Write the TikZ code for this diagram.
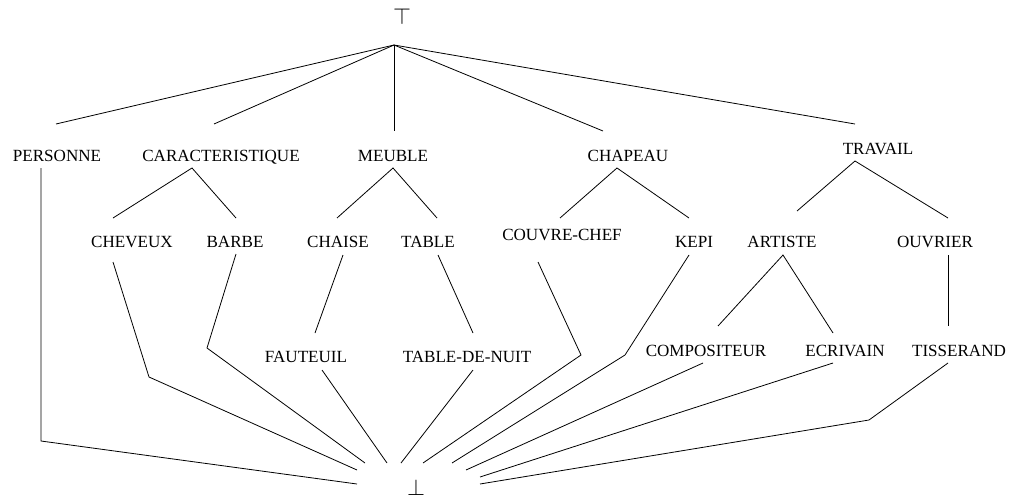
\documentclass[tikz,border=0pt]{standalone}
\usepackage{fontspec}
\setmainfont{Liberation Serif}
\begin{document}
\begin{tikzpicture}[x=0.75pt,y=-0.75pt,
  lbl/.style={inner sep=0pt,anchor=base,font=\fontsize{12.8}{15}\selectfont},
  sym/.style={inner sep=0pt,font=\fontsize{16}{18}\selectfont},
  edge/.style={line width=0.6pt,line join=miter}]
\useasboundingbox (0,0) rectangle (1009,500);
% labels
\node[sym] (TOP) at (402,16.5) {$\top$};
\node[sym] (BOT) at (416,487) {$\bot$};
\node[lbl] (PERSONNE) at (57,161) {PERSONNE};
\node[lbl] (CARAC) at (221,161) {CARACTERISTIQUE};
\node[lbl] (MEUBLE) at (393,161) {MEUBLE};
\node[lbl] (CHAPEAU) at (628,161) {CHAPEAU};
\node[lbl] (TRAVAIL) at (878,154) {TRAVAIL};
\node[lbl] (CHEVEUX) at (132,247) {CHEVEUX};
\node[lbl] (BARBE) at (235,247) {BARBE};
\node[lbl] (CHAISE) at (338,247) {CHAISE};
\node[lbl] (TABLE) at (428,247) {TABLE};
\node[lbl] (COUVRE) at (562,240) {COUVRE-CHEF};
\node[lbl] (KEPI) at (694,247) {KEPI};
\node[lbl] (ARTISTE) at (782,247) {ARTISTE};
\node[lbl] (OUVRIER) at (935,247) {OUVRIER};
\node[lbl] (FAUTEUIL) at (306,362) {FAUTEUIL};
\node[lbl] (TDN) at (467,362) {TABLE-DE-NUIT};
\node[lbl] (COMPOS) at (706,356) {COMPOSITEUR};
\node[lbl] (ECRIV) at (845,356) {ECRIVAIN};
\node[lbl] (TISS) at (959,356) {TISSERAND};
% connector end points
\coordinate (apex) at (394,45);
\coordinate (tP) at (56,124);
\coordinate (tC) at (214,124);
\coordinate (tM) at (394,131);
\coordinate (tH) at (603,131);
\coordinate (tT) at (855,124);
\coordinate (cA) at (192,168);
\coordinate (cL) at (113,218);
\coordinate (cR) at (236,218);
\coordinate (mA) at (393,168);
\coordinate (mL) at (337,218);
\coordinate (mR) at (437,218);
\coordinate (hA) at (617,168);
\coordinate (hL) at (560,218);
\coordinate (hR) at (689,218);
\coordinate (wA) at (855,161);
\coordinate (wL) at (797,211);
\coordinate (wR) at (948,218);
\coordinate (pS) at (41,168);
\coordinate (pK) at (41,441);
\coordinate (pE) at (357,484);
\coordinate (chS) at (113,262);
\coordinate (chK) at (149,377);
\coordinate (chE) at (357,470);
\coordinate (bS) at (236,254);
\coordinate (bK) at (207,348);
\coordinate (bE) at (365,463);
\coordinate (caS) at (343,255);
\coordinate (caE) at (315,333);
\coordinate (taS) at (438,255);
\coordinate (taE) at (473,333);
\coordinate (fS) at (322,370);
\coordinate (fE) at (387,463);
\coordinate (nS) at (473,370);
\coordinate (nE) at (401,463);
\coordinate (ccS) at (538,262);
\coordinate (ccK) at (581,355);
\coordinate (ccE) at (423,463);
\coordinate (kS) at (689,255);
\coordinate (kK) at (625,355);
\coordinate (kE) at (452,463);
\coordinate (aA) at (783,255);
\coordinate (aL) at (718,326);
\coordinate (aR) at (833,333);
\coordinate (oS) at (948,255);
\coordinate (oE) at (948,326);
\coordinate (coS) at (703,363);
\coordinate (coE) at (466,470);
\coordinate (eS) at (833,363);
\coordinate (eE) at (480,477);
\coordinate (tiS) at (948,363);
\coordinate (tiK) at (869,420);
\coordinate (tiE) at (480,484);
% connectors
\draw[edge] (apex) -- (tP);
\draw[edge] (apex) -- (tC);
\draw[edge] (apex) -- (tM);
\draw[edge] (apex) -- (tH);
\draw[edge] (apex) -- (tT);
\draw[edge] (cL) -- (cA) -- (cR);
\draw[edge] (mL) -- (mA) -- (mR);
\draw[edge] (hL) -- (hA) -- (hR);
\draw[edge] (wL) -- (wA) -- (wR);
\draw[edge] (pS) -- (pK) -- (pE);
\draw[edge] (chS) -- (chK) -- (chE);
\draw[edge] (bS) -- (bK) -- (bE);
\draw[edge] (caS) -- (caE);
\draw[edge] (taS) -- (taE);
\draw[edge] (fS) -- (fE);
\draw[edge] (nS) -- (nE);
\draw[edge] (ccS) -- (ccK) -- (ccE);
\draw[edge] (kS) -- (kK) -- (kE);
\draw[edge] (aL) -- (aA) -- (aR);
\draw[edge] (oS) -- (oE);
\draw[edge] (coS) -- (coE);
\draw[edge] (eS) -- (eE);
\draw[edge] (tiS) -- (tiK) -- (tiE);
\end{tikzpicture}
\end{document}
